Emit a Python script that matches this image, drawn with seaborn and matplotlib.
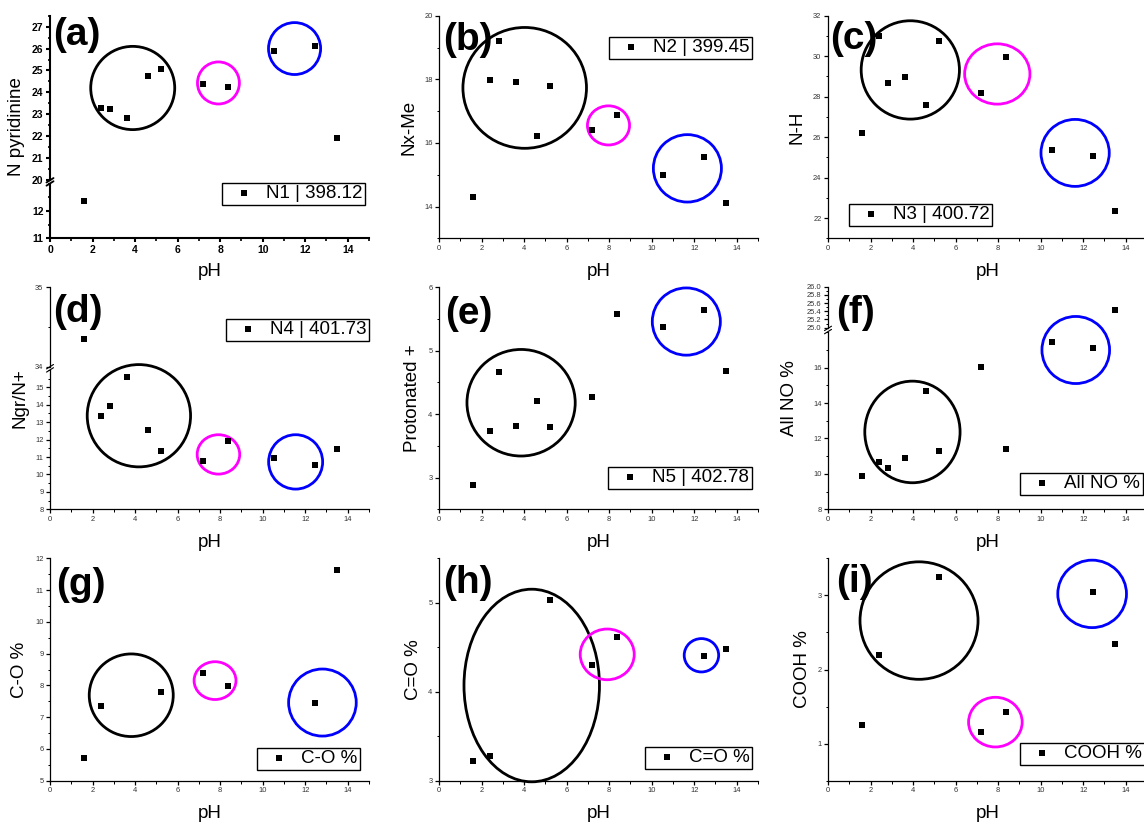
import matplotlib
matplotlib.use("Agg")
import matplotlib.pyplot as plt
import seaborn as sns
from matplotlib.patches import Ellipse
from matplotlib.lines import Line2D
from matplotlib.ticker import MultipleLocator

# ---------------- data ----------------
ph_n = [1.6, 2.4, 2.8, 3.6, 4.6, 5.2, 7.2, 8.35, 10.55, 12.45, 13.5]
ph_o = [1.6, 2.4, 5.2, 7.2, 8.35, 12.45, 13.5]

n_pyridinic = [12.35, 23.30, 23.24, 22.82, 24.76, 25.08, 24.37, 24.25, 25.90, 26.10, 21.92]
nx_me = [14.31, 17.97, 19.21, 17.90, 16.22, 17.78, 16.42, 16.87, 14.99, 15.57, 14.12]
n_h = [26.21, 30.99, 28.66, 28.96, 27.60, 30.73, 28.18, 29.95, 25.36, 25.06, 22.35]
ngr_nplus = [34.35, 13.35, 13.93, 15.61, 12.53, 11.35, 10.75, 11.92, 10.96, 10.52, 11.48]
protonated = [2.89, 3.74, 4.66, 3.81, 4.20, 3.79, 4.27, 5.58, 5.37, 5.64, 4.68]
all_no = [9.86, 10.66, 10.32, 10.92, 14.67, 11.31, 16.02, 11.41, 17.43, 17.11, 25.43]
c_o = [5.70, 7.34, 7.78, 8.39, 7.98, 7.43, 11.62]
c_double_o = [3.22, 3.28, 5.03, 4.30, 4.62, 4.40, 4.48]
cooh = [1.25, 2.19, 3.25, 1.16, 1.43, 3.05, 2.35]

series_labels = ["N1 | 398.12", "N2 | 399.45", "N3 | 400.72", "N4 | 401.73",
                 "N5 | 402.78", "All NO %", "C-O %", "C=O %", "COOH %"]
y_titles = ["N pyridinine", "Nx-Me", "N-H", "Ngr/N+", "Protonated +",
            "All NO %", "C-O %", "C=O %", "COOH %"]
panel_tags = ["(a)", "(b)", "(c)", "(d)", "(e)", "(f)", "(g)", "(h)", "(i)"]

# ---------------- layout (pixels) ----------------
W, H = 1144, 822
COL_L = [50, 439, 828]
AX_W = 319
ROW_B = [238.3, 509.3, 780.7]
ROW_T = [15.7, 287.3, 558.3]

K, M, B = "black", "#ff00ff", "#0000ff"

sns.set_theme(style="ticks")
plt.rcParams["font.family"] = ["Liberation Sans", "DejaVu Sans"]
plt.rcParams["text.color"] = "black"
plt.rcParams["axes.labelcolor"] = "black"

fig = plt.figure(figsize=(W / 100, H / 100), dpi=100)


def rect(l, r, b, t):
    return [l / W, 1 - b / H, (r - l) / W, (b - t) / H]


def fx(px):
    return px / W


def fy(py):
    return 1 - py / H


# segments: (ymin, ymax, px_bottom, px_top, major ticks, minor step, label fmt)
panels = [
    dict(x=ph_n, y=n_pyridinic, segs=[(11, 13, 238.3, 183.7, [11, 12], 0.5, "{:d}"),
                                      (20, 27.5, 180.0, 15.7, list(range(20, 28)), 0.5, "{:d}")],
         rings=[(1, 3.89, 24.20, 3.95, 3.80, K), (1, 7.92, 24.43, 1.97, 1.92, M),
                (1, 11.50, 26.00, 2.45, 2.37, B)],
         leg=(0, 222, 183), tag=(53, 17), ylab_x=17, bold=True),
    dict(x=ph_n, y=nx_me, segs=[(13, 20, 238.3, 15.7, [14, 16, 18, 20], 1, "{:d}")],
         rings=[(0, 4.03, 17.73, 5.81, 3.80, K), (0, 7.97, 16.55, 1.98, 1.23, M),
                (0, 11.68, 15.20, 3.20, 2.12, B)],
         leg=(0, 609, 37), tag=(443, 22), ylab_x=409),
    dict(x=ph_n, y=n_h, segs=[(21, 32, 238.3, 15.7, [22, 24, 26, 28, 30, 32], 1, "{:d}")],
         rings=[(0, 3.87, 29.32, 4.62, 4.86, K), (0, 7.96, 29.12, 3.07, 2.98, M),
                (0, 11.62, 25.22, 3.21, 3.31, B)],
         leg=(0, 849, 204), tag=(830, 21), ylab_x=797),
    dict(x=ph_n, y=ngr_nplus, segs=[(8, 16, 509.3, 369.9, list(range(8, 16)), 0.5, "{:d}"),
                                    (34, 35, 366.7, 287.3, [34, 35], 0.5, "{:d}")],
         rings=[(0, 4.18, 13.37, 4.86, 5.87, K), (0, 7.92, 11.15, 2.00, 2.26, M),
                (0, 11.55, 10.72, 2.54, 3.12, B)],
         leg=(1, 226, 319), tag=(53, 294), ylab_x=20),
    dict(x=ph_n, y=protonated, segs=[(2.5, 6, 509.3, 287.3, [3, 4, 5, 6], 0.5, "{:d}")],
         rings=[(0, 3.86, 4.18, 5.09, 1.68, K), (0, 11.63, 5.46, 3.20, 1.06, B)],
         leg=(0, 608, 467), tag=(445, 296), ylab_x=413),
    dict(x=ph_n, y=all_no, segs=[(8, 18, 509.3, 332.3, [8, 10, 12, 14, 16], 1, "{:d}"),
                                 (25, 26, 327.7, 286.7, [25.0, 25.2, 25.4, 25.6, 25.8, 26.0], 0.1, "{:.1f}")],
         rings=[(0, 3.97, 12.37, 4.48, 5.74, K), (0, 11.65, 17.00, 3.18, 3.79, B)],
         leg=(0, 1020, 473), tag=(836, 295), ylab_x=790),
    dict(x=ph_o, y=c_o, segs=[(5, 12, 780.7, 558.3, list(range(5, 13)), 0.5, "{:d}")],
         rings=[(0, 3.82, 7.69, 3.95, 2.60, K), (0, 7.76, 8.15, 1.97, 1.19, M),
                (0, 12.81, 7.46, 3.18, 2.11, B)],
         leg=(0, 257, 748), tag=(56, 567), ylab_x=20),
    dict(x=ph_o, y=c_double_o, segs=[(3, 5.5, 780.7, 558.3, [3, 4, 5], 0.5, "{:d}")],
         rings=[(0, 4.36, 4.07, 6.37, 2.165, K), (0, 7.91, 4.42, 2.54, 0.57, M),
                (0, 12.34, 4.41, 1.62, 0.375, B)],
         leg=(0, 645, 747), tag=(443, 565), ylab_x=414),
    dict(x=ph_o, y=cooh, segs=[(0.5, 3.5, 780.7, 558.3, [1, 2, 3], 0.5, "{:d}")],
         rings=[(0, 4.28, 2.66, 5.55, 1.585, K), (0, 7.87, 1.29, 2.52, 0.67, M),
                (0, 12.42, 3.02, 3.23, 0.91, B)],
         leg=(0, 1020, 743), tag=(836, 564), ylab_x=803),
]

for idx, p in enumerate(panels):
    row, col = divmod(idx, 3)
    l = COL_L[col]
    r = l + AX_W
    bold = p.get("bold", False)
    spine_w = 1.5 if bold else 0.9
    tick_fs = 7.5 if bold else 5.4
    tick_col = "black" if bold else "#333333"
    weight = "bold" if bold else "normal"

    seg_axes = []
    nseg = len(p["segs"])
    for si, (ylo, yhi, pb, pt, ticks, mstep, fmt) in enumerate(p["segs"]):
        ax = fig.add_axes(rect(l, r, pb, pt))
        ax.patch.set_alpha(0)
        sns.scatterplot(x=p["x"], y=p["y"], ax=ax, marker="s", s=17, color="black",
                        linewidth=0, zorder=4,
                        label=series_labels[idx] if si == p["leg"][0] else None)
        ax.set_xlim(0, 15)
        ax.set_ylim(ylo, yhi)
        ax.set_xlabel("")
        ax.set_ylabel("")
        for s in ("top", "right"):
            ax.spines[s].set_visible(False)
        for s in ("left", "bottom"):
            ax.spines[s].set_linewidth(spine_w)
            ax.spines[s].set_color("black")
        ax.set_yticks(ticks, [fmt.format(int(t)) if fmt == "{:d}" else fmt.format(t) for t in ticks],
                      fontsize=tick_fs, color=tick_col, fontweight=weight)
        ax.yaxis.set_minor_locator(MultipleLocator(mstep))
        ax.tick_params(axis="both", which="major", direction="out", length=3.2,
                       width=spine_w, pad=1.5, colors="black")
        ax.tick_params(axis="both", which="minor", direction="out", length=1.8,
                       width=spine_w * 0.8, colors="black")
        ax.tick_params(axis="y", labelcolor=tick_col)
        if si == 0:
            ax.set_xticks(range(0, 15, 2), [str(v) for v in range(0, 15, 2)],
                          fontsize=tick_fs, color=tick_col, fontweight=weight)
            ax.xaxis.set_minor_locator(MultipleLocator(1))
            ax.tick_params(axis="x", labelcolor=tick_col)
        else:
            ax.spines["bottom"].set_visible(False)
            ax.tick_params(axis="x", which="both", bottom=False, labelbottom=False)
        seg_axes.append(ax)

    # cluster rings
    for (si, cx, cy, w, h, c) in p["rings"]:
        seg_axes[si].add_patch(Ellipse((cx, cy), w, h, fill=False, edgecolor=c,
                                       linewidth=2.0, clip_on=False, zorder=3))

    # break marks on the y axis
    if nseg == 2:
        yc = (p["segs"][0][3] + p["segs"][1][2]) / 2
        for off in (-1.6, 1.6):
            fig.add_artist(Line2D([fx(l - 3.5), fx(l + 3.5)],
                                  [fy(yc + off + 2.2), fy(yc + off - 2.2)],
                                  color="black", linewidth=spine_w * 0.9))

    # legend
    li, lx, ly = p["leg"]
    lax = seg_axes[li]
    for a in seg_axes:
        if a.get_legend() is not None and a is not lax:
            a.get_legend().remove()
    leg = lax.legend(loc="upper left", bbox_to_anchor=(fx(lx), fy(ly)),
                     bbox_transform=fig.transFigure, frameon=True, fancybox=False,
                     fontsize=13.5, borderpad=0.12, handlelength=2.1, handletextpad=0.15,
                     borderaxespad=0, markerscale=1.0, labelspacing=0.1)
    leg.get_frame().set_edgecolor("black")
    leg.get_frame().set_linewidth(1.0)
    leg.get_frame().set_facecolor("white")
    leg.get_frame().set_alpha(1.0)
    for t in leg.get_texts():
        t.set_color("black")
    leg.set_zorder(10)

    # titles and axis labels
    top_px = ROW_T[row]
    bot_px = ROW_B[row]
    tx, ty = p["tag"]
    fig.text(fx(tx), fy(ty), panel_tags[idx], fontsize=28, fontweight="bold",
             color="black", ha="left", va="top", zorder=6)
    fig.text(fx(p["ylab_x"]), fy((top_px + bot_px) / 2), y_titles[idx], fontsize=13.5,
             color="black", rotation=90, ha="center", va="center")
    fig.text(fx((l + r) / 2), fy(bot_px + 33), "pH", fontsize=13.5, color="black",
             ha="center", va="center")

fig.savefig("out.png", dpi=100)
